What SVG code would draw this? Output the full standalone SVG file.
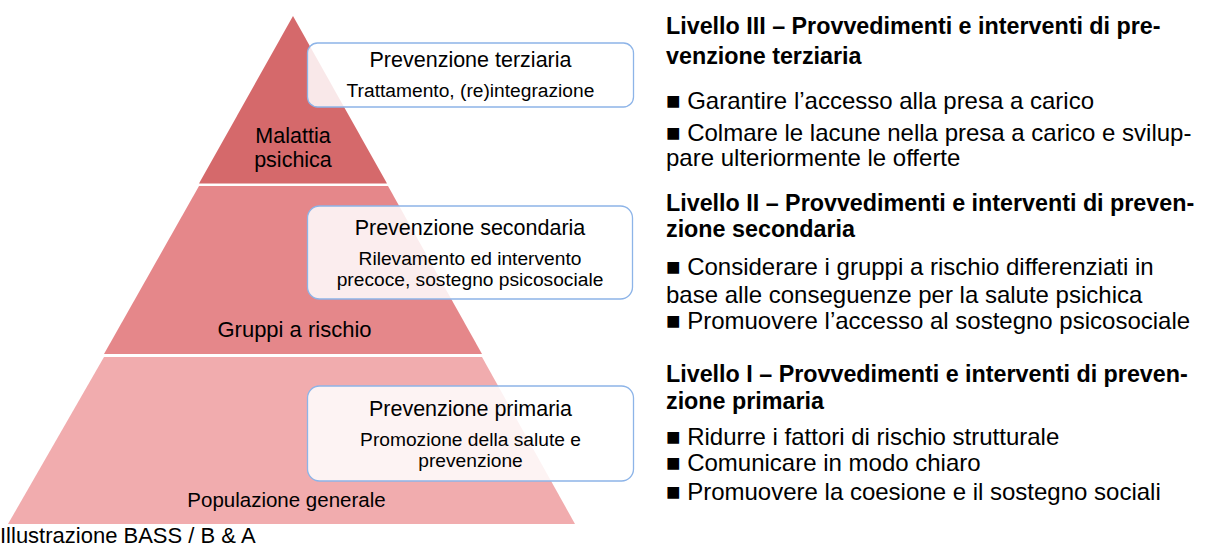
<svg xmlns="http://www.w3.org/2000/svg" width="1212" height="546" viewBox="0 0 1212 546">
<style>
text{font-family:"Liberation Sans",Arial,sans-serif;fill:#000}
.lbl{font-size:22px;text-anchor:middle}
.bt{font-size:21.5px;text-anchor:middle}
.bs{font-size:19.2px;text-anchor:middle}
.hd{font-size:23.3px;font-weight:bold}
.bd{font-size:24px}
.box{fill:#fff;fill-opacity:0.85;stroke:#8DB4E8;stroke-width:1.3}
</style>
<rect width="1212" height="546" fill="#fff"/>
<g id="pyramid">
<polygon id="level3" points="293,16 387,183.5 199,183.5" fill="#D5696B"/>
<polygon id="level2" points="199,186 388,186 482,354 104,354" fill="#E5878A"/>
<polygon id="level1" points="104,357 482,357 575,524 8,524" fill="#F1ACAE"/>
<text class="lbl" x="293" y="143" style="font-size:21.5px">Malattia</text>
<text class="lbl" x="293" y="167" style="font-size:21.5px">psichica</text>
<text class="lbl" x="294.5" y="337">Gruppi a rischio</text>
<text class="lbl" x="286.5" y="507" style="font-size:20.5px">Populazione generale</text>
</g>
<g id="box3">
<rect class="box" x="307.5" y="43" width="326" height="64" rx="10"/>
<text class="bt" x="470.5" y="67">Prevenzione terziaria</text>
<text class="bs" x="470.5" y="97">Trattamento, (re)integrazione</text>
</g>
<g id="box2">
<rect class="box" x="307.5" y="206" width="325" height="93" rx="12"/>
<text class="bt" x="470" y="235">Prevenzione secondaria</text>
<text class="bs" x="470" y="265">Rilevamento ed intervento</text>
<text class="bs" x="470" y="286">precoce, sostegno psicosociale</text>
</g>
<g id="box1">
<rect class="box" x="307.5" y="386" width="326" height="95" rx="12"/>
<text class="bt" x="470.5" y="416">Prevenzione primaria</text>
<text class="bs" x="470.5" y="446">Promozione della salute e</text>
<text class="bs" x="470.5" y="467">prevenzione</text>
</g>
<g id="right-text">
<text class="hd" x="666" y="34">Livello III – Provvedimenti e interventi di pre-</text>
<text class="hd" x="666" y="64">venzione terziaria</text>
<text class="bd" x="666" y="109">■ Garantire l’accesso alla presa a carico</text>
<text class="bd" x="666" y="141">■ Colmare le lacune nella presa a carico e svilup-</text>
<text class="bd" x="666" y="166">pare ulteriormente le offerte</text>
<text class="hd" x="666" y="211">Livello II – Provvedimenti e interventi di preven-</text>
<text class="hd" x="666" y="237">zione secondaria</text>
<text class="bd" x="666" y="275">■ Considerare i gruppi a rischio differenziati in</text>
<text class="bd" x="666" y="303">base alle conseguenze per la salute psichica</text>
<text class="bd" x="666" y="329">■ Promuovere l’accesso al sostegno psicosociale</text>
<text class="hd" x="666" y="382">Livello I – Provvedimenti e interventi di preven-</text>
<text class="hd" x="666" y="409">zione primaria</text>
<text class="bd" x="666" y="445">■ Ridurre i fattori di rischio strutturale</text>
<text class="bd" x="666" y="471">■ Comunicare in modo chiaro</text>
<text class="bd" x="666" y="500">■ Promuovere la coesione e il sostegno sociali</text>
</g>
<text id="credit" x="0" y="543" style="font-size:22px">Illustrazione BASS / B &amp; A</text>
</svg>
